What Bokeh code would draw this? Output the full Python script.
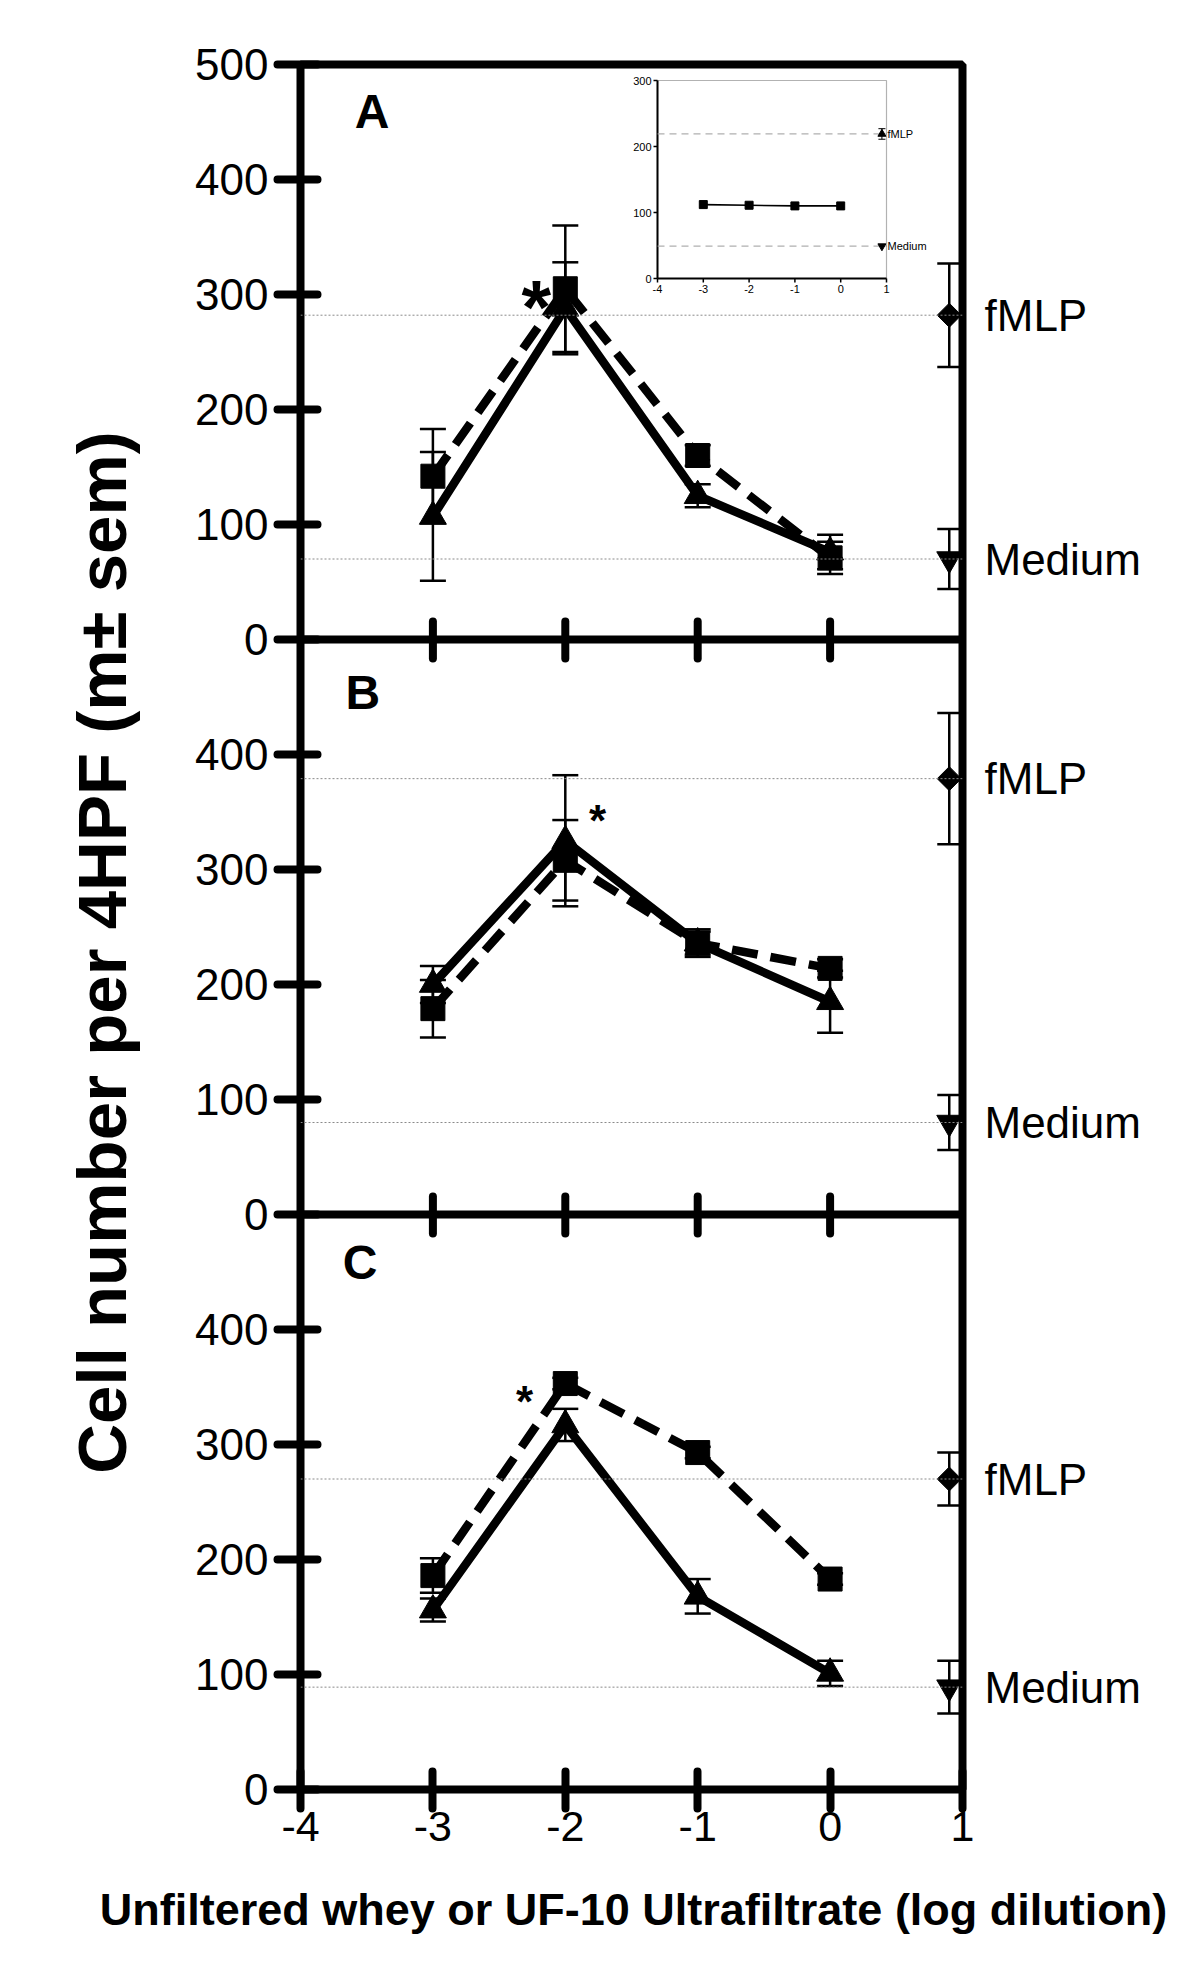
import numpy as np
import pandas as pd
from bokeh.plotting import figure
from bokeh.models import (Range1d, LinearAxis, FixedTicker, Whisker, TeeHead,
                          Span, Label, ColumnDataSource, BoxAnnotation)
from bokeh.layouts import row, column
from bokeh.embed import file_html
from bokeh.resources import INLINE
from bokeh.core.properties import value

# ---------------- data ----------------
log_dilution = [-3, -2, -1, 0]
control_x = 0.9

a_whey = [107, 288, 125, 76]
a_whey_sem = [56, 40, 10, 15]
a_uf10 = [142, 305, 160, 71]
a_uf10_sem = [41, 55, 9, 14]
a_fmlp, a_fmlp_sem = 282, 45
a_medium, a_medium_sem = 70, 26

b_whey = [200, 325, 236, 185]
b_whey_sem = [16, 57, 10, 27]
b_uf10 = [179, 308, 236, 214]
b_uf10_sem = [25, 35, 12, 8]
b_fmlp, b_fmlp_sem = 379, 57
b_medium, b_medium_sem = 80, 24

c_whey = [156, 317, 168, 101]
c_whey_sem = [10, 14, 15, 11]
c_uf10 = [186, 353, 293, 183]
c_uf10_sem = [15, 5, 5, 5]
c_fmlp, c_fmlp_sem = 270, 23
c_medium, c_medium_sem = 89, 23

inset_values = [112, 111, 110, 110]
inset_sem = [5, 2, 2, 2]
inset_fmlp, inset_fmlp_sem = 219, 8
inset_medium = 49

x_ticks = [-4, -3, -2, -1, 0, 1]
inner_x_ticks = [-3, -2, -1, 0]
y_ticks_a = [0, 100, 200, 300, 400, 500]
y_ticks_bc = [0, 100, 200, 300, 400]
inset_y_ticks = [0, 100, 200, 300]
control_labels = ["fMLP", "Medium"]

x_title = "Unfiltered whey or UF-10 Ultrafiltrate (log dilution)"
y_title = "Cell number per 4HPF (m\u00b1 sem)"

# ---------------- layout constants ----------------
FONT = "Liberation Sans"
PANEL_SPAN = 500            # each panel shows 0..500
FRAME_W, FRAME_H = 662, 1725
BORDER_L, BORDER_R, BORDER_T, BORDER_B = 142, 226, 64, 70
STRIP_W = 158
TOTAL_H = BORDER_T + FRAME_H + BORDER_B
TOTAL_W = STRIP_W + BORDER_L + FRAME_W + BORDER_R
panel_offset = {"A": 2 * PANEL_SPAN, "B": PANEL_SPAN, "C": 0}

p = figure(x_range=Range1d(-4, 1), y_range=Range1d(0, 3 * PANEL_SPAN),
           frame_width=FRAME_W, frame_height=FRAME_H, min_border_left=BORDER_L,
           min_border_right=BORDER_R, min_border_top=BORDER_T,
           min_border_bottom=BORDER_B, x_axis_type=None, y_axis_type=None,
           toolbar_location=None, output_backend="svg",
           background_fill_color="white", border_fill_color="white",
           outline_line_color="black", outline_line_width=8)
for name in ("A", "B"):
    off = panel_offset[name]
    p.extra_y_ranges[name] = Range1d(-off, 3 * PANEL_SPAN - off)
p.extra_y_ranges["C"] = Range1d(0, 3 * PANEL_SPAN)

# inset coordinate system placed in the upper right of panel A
inset_px = dict(left=357, right=586, top=16, bottom=214)   # px inside the frame
ix_scale = (inset_px["right"] - inset_px["left"]) / 5.0
iy_scale = (inset_px["bottom"] - inset_px["top"]) / 300.0
p.extra_x_ranges["ix"] = Range1d(-4 - inset_px["left"] / ix_scale,
                                 1 + (FRAME_W - inset_px["right"]) / ix_scale)
p.extra_y_ranges["iy"] = Range1d(-(FRAME_H - inset_px["bottom"]) / iy_scale,
                                 300 + inset_px["top"] / iy_scale)

# ---------------- axes ----------------
left_ticks, left_labels = [], {}
for name, ticks in (("C", y_ticks_bc), ("B", y_ticks_bc), ("A", y_ticks_a)):
    for t in ticks:
        left_ticks.append(t + panel_offset[name])
        left_labels[t + panel_offset[name]] = str(t)
yax = LinearAxis(ticker=FixedTicker(ticks=left_ticks),
                 major_label_overrides=left_labels, major_tick_in=17,
                 major_tick_out=23, major_tick_line_width=8,
                 major_tick_line_cap="round", minor_tick_in=0, minor_tick_out=0,
                 minor_tick_line_color=None, axis_line_color=None,
                 major_label_text_font=FONT, major_label_text_font_size="44px",
                 major_label_text_color="black", major_label_standoff=9)
p.add_layout(yax, "left")

controls = {"A": (a_fmlp, a_medium), "B": (b_fmlp, b_medium), "C": (c_fmlp, c_medium)}
right_ticks, right_labels = [], {}
for name, (f, m) in controls.items():
    right_ticks += [f + panel_offset[name], m + panel_offset[name]]
    right_labels[f + panel_offset[name]] = control_labels[0]
    right_labels[m + panel_offset[name]] = control_labels[1]
rax = LinearAxis(ticker=FixedTicker(ticks=right_ticks),
                 major_label_overrides=right_labels, major_tick_in=0,
                 major_tick_out=0, major_tick_line_color=None, minor_tick_in=0,
                 minor_tick_out=0, minor_tick_line_color=None,
                 axis_line_color=None, major_label_text_font=FONT,
                 major_label_text_font_size="44px",
                 major_label_text_color="black", major_label_standoff=22)
p.add_layout(rax, "right")

xax = LinearAxis(ticker=FixedTicker(ticks=x_ticks),
                 major_label_overrides={t: str(t) for t in x_ticks},
                 major_tick_in=18, major_tick_out=19, major_tick_line_width=8,
                 major_tick_line_cap="round", minor_tick_in=0, minor_tick_out=0,
                 minor_tick_line_color=None, axis_line_color=None,
                 major_label_text_font=FONT, major_label_text_font_size="43px",
                 major_label_text_color="black", major_label_standoff=3)
p.add_layout(xax, "below")

# panel separators with ticks on both sides
for name in ("A", "B"):
    p.add_layout(Span(location=0, dimension="width", y_range_name=name,
                      line_color="black", line_width=8))
    zeros = [0] * len(inner_x_ticks)
    p.ray(x=inner_x_ticks, y=zeros, length=18, length_units="screen",
          angle=np.pi / 2, line_width=8, line_color="black", line_cap="round",
          y_range_name=name)
    p.ray(x=inner_x_ticks, y=zeros, length=19, length_units="screen",
          angle=-np.pi / 2, line_width=8, line_color="black", line_cap="round",
          y_range_name=name)


def whisker(src, lo, hi, width, size, **kw):
    return Whisker(source=src, base="x", lower=lo, upper=hi,
                   line_width=width, line_color="black",
                   upper_head=TeeHead(size=size, line_width=width, line_color="black"),
                   lower_head=TeeHead(size=size, line_width=width, line_color="black"),
                   **kw)


def draw_panel(name, letter_xy, whey, whey_sem, uf, uf_sem, fmlp, fmlp_sem,
               med, med_sem, star_xy, star_size):
    for v in (fmlp, med):
        p.add_layout(Span(location=v, dimension="width", y_range_name=name,
                          line_color="#8a8a8a", line_width=1, line_dash="2 2"))

    df = pd.DataFrame({"x": log_dilution, "whey": whey, "uf": uf})
    df["whey_lo"] = df["whey"] - np.array(whey_sem)
    df["whey_hi"] = df["whey"] + np.array(whey_sem)
    df["uf_lo"] = df["uf"] - np.array(uf_sem)
    df["uf_hi"] = df["uf"] + np.array(uf_sem)
    src = ColumnDataSource(df)

    p.add_layout(whisker(src, "uf_lo", "uf_hi", 2.5, 26, y_range_name=name))
    p.add_layout(whisker(src, "whey_lo", "whey_hi", 2.5, 26, y_range_name=name))

    p.line("x", "uf", source=src, line_width=8.5, line_color="black",
           line_dash="26 13", y_range_name=name)
    p.line("x", "whey", source=src, line_width=8.5, line_color="black",
           y_range_name=name)
    p.scatter("x", "uf", source=src, marker="square", size=24, color="black",
              y_range_name=name)
    p.scatter("x", "whey", source=src, marker="triangle", size=27,
              color="black", y_range_name=name)

    cdf = pd.DataFrame({"x": [control_x, control_x], "y": [fmlp, med],
                        "sem": [fmlp_sem, med_sem]})
    cdf["lo"] = cdf["y"] - cdf["sem"]
    cdf["hi"] = cdf["y"] + cdf["sem"]
    csrc = ColumnDataSource(cdf)
    p.add_layout(whisker(csrc, "lo", "hi", 2.5, 24, y_range_name=name))
    p.scatter(x=[control_x], y=[fmlp], marker="square", angle=np.pi / 4,
              size=17, color="black", y_range_name=name)
    p.scatter(x=[control_x], y=[med], marker="inverted_triangle", size=25,
              color="black", y_range_name=name)

    p.add_layout(Label(x=letter_xy[0], y=letter_xy[1], text=name,
                       text_font=FONT, text_font_style="bold",
                       text_font_size="48px", text_align="center",
                       text_baseline="alphabetic", text_color="black",
                       y_range_name=name))
    p.add_layout(Label(x=star_xy[0], y=star_xy[1], text="*", text_font=FONT,
                       text_font_style="bold", text_font_size=star_size,
                       text_align="center", text_baseline="alphabetic",
                       text_color="black", y_range_name=name))


draw_panel("A", (-3.46, 459), a_whey, a_whey_sem, a_uf10, a_uf10_sem,
           a_fmlp, a_fmlp_sem, a_medium, a_medium_sem, (-2.22, 290), "76px")
draw_panel("B", (-3.53, 454), b_whey, b_whey_sem, b_uf10, b_uf10_sem,
           b_fmlp, b_fmlp_sem, b_medium, b_medium_sem, (-1.757, 343), "44px")
draw_panel("C", (-3.55, 458), c_whey, c_whey_sem, c_uf10, c_uf10_sem,
           c_fmlp, c_fmlp_sem, c_medium, c_medium_sem, (-2.307, 337), "44px")

# ---------------- inset ----------------
IK = dict(x_range_name="ix", y_range_name="iy")
ix_lim, iy_lim = [x_ticks[0], x_ticks[-1]], [inset_y_ticks[0], inset_y_ticks[-1]]
p.add_layout(BoxAnnotation(left=ix_lim[0], right=ix_lim[1], bottom=iy_lim[0],
                           top=iy_lim[1], fill_color=None, line_color="black",
                           line_width=1.2, **IK))
p.segment(x0=[ix_lim[0], ix_lim[0]], y0=[iy_lim[0], iy_lim[0]],
          x1=[ix_lim[0], ix_lim[1]], y1=[iy_lim[1], iy_lim[0]],
          line_width=2, line_color="black", **IK)
for v in (inset_fmlp, inset_medium):
    p.segment(x0=[ix_lim[0]], y0=[v], x1=[ix_lim[1]], y1=[v],
              line_color="#b0b0b0", line_width=1.2, line_dash="7 5", **IK)
p.ray(x=[ix_lim[0]] * len(inset_y_ticks), y=inset_y_ticks, length=4,
      length_units="screen", angle=np.pi, line_width=1.5, line_color="black", **IK)
p.ray(x=x_ticks, y=[iy_lim[0]] * len(x_ticks), length=4, length_units="screen",
      angle=-np.pi / 2, line_width=1.5, line_color="black", **IK)
p.text(x=[ix_lim[0]] * len(inset_y_ticks), y=inset_y_ticks,
       text=[str(t) for t in inset_y_ticks], x_offset=-6, text_align="right",
       text_baseline="middle", text_font=value(FONT), text_font_size="11px",
       text_color="black", **IK)
p.text(x=x_ticks, y=[iy_lim[0]] * len(x_ticks), text=[str(t) for t in x_ticks],
       y_offset=6, text_align="center", text_baseline="top",
       text_font=value(FONT), text_font_size="11px", text_color="black", **IK)
p.text(x=[ix_lim[1], ix_lim[1]], y=[inset_fmlp, inset_medium],
       text=control_labels, x_offset=1, text_align="left",
       text_baseline="middle", text_font=value(FONT), text_font_size="11px",
       text_color="black", **IK)

idf = pd.DataFrame({"x": log_dilution, "y": inset_values, "sem": inset_sem})
idf["lo"] = idf["y"] - idf["sem"]
idf["hi"] = idf["y"] + idf["sem"]
isrc = ColumnDataSource(idf)
p.add_layout(whisker(isrc, "lo", "hi", 1, 7, **IK))
p.line("x", "y", source=isrc, line_width=1.6, line_color="black", **IK)
p.scatter("x", "y", source=isrc, marker="square", size=8, color="black", **IK)
icdf = pd.DataFrame({"x": [control_x], "y": [inset_fmlp], "sem": [inset_fmlp_sem]})
icdf["lo"] = icdf["y"] - icdf["sem"]
icdf["hi"] = icdf["y"] + icdf["sem"]
icsrc = ColumnDataSource(icdf)
p.add_layout(whisker(icsrc, "lo", "hi", 1, 7, **IK))
p.scatter(x=[control_x], y=[inset_fmlp], marker="triangle", size=8,
          color="black", **IK)
p.scatter(x=[control_x], y=[inset_medium], marker="inverted_triangle", size=8,
          color="black", **IK)

# ---------------- y title (own strip on the left) ----------------
tf = figure(x_range=Range1d(0, STRIP_W), y_range=Range1d(0, TOTAL_H),
            width=STRIP_W, height=TOTAL_H, min_border=0, x_axis_type=None,
            y_axis_type=None, toolbar_location=None, output_backend="svg",
            outline_line_color=None, background_fill_color="white",
            border_fill_color="white")
tf.text(x=[102], y=[TOTAL_H - 957], text=[y_title], angle=np.pi / 2,
        text_align="center", text_baseline="middle",
        text_font=value(FONT), text_font_style="bold",
        text_font_size="69px", text_color="black")

# ---------------- x title (own strip below) ----------------
XT_H = 90
xt = figure(x_range=Range1d(0, TOTAL_W), y_range=Range1d(0, XT_H),
            width=TOTAL_W, height=XT_H, min_border=0, x_axis_type=None,
            y_axis_type=None, toolbar_location=None, output_backend="svg",
            outline_line_color=None, background_fill_color="white",
            border_fill_color="white")
xt.text(x=[633], y=[XT_H - 50], text=[x_title], text_align="center",
        text_baseline="middle", text_font=value(FONT),
        text_font_style="bold", text_font_size="45px", text_color="black")

layout = column(row(tf, p), xt)
open("out.html", "w").write(file_html(layout, INLINE))
